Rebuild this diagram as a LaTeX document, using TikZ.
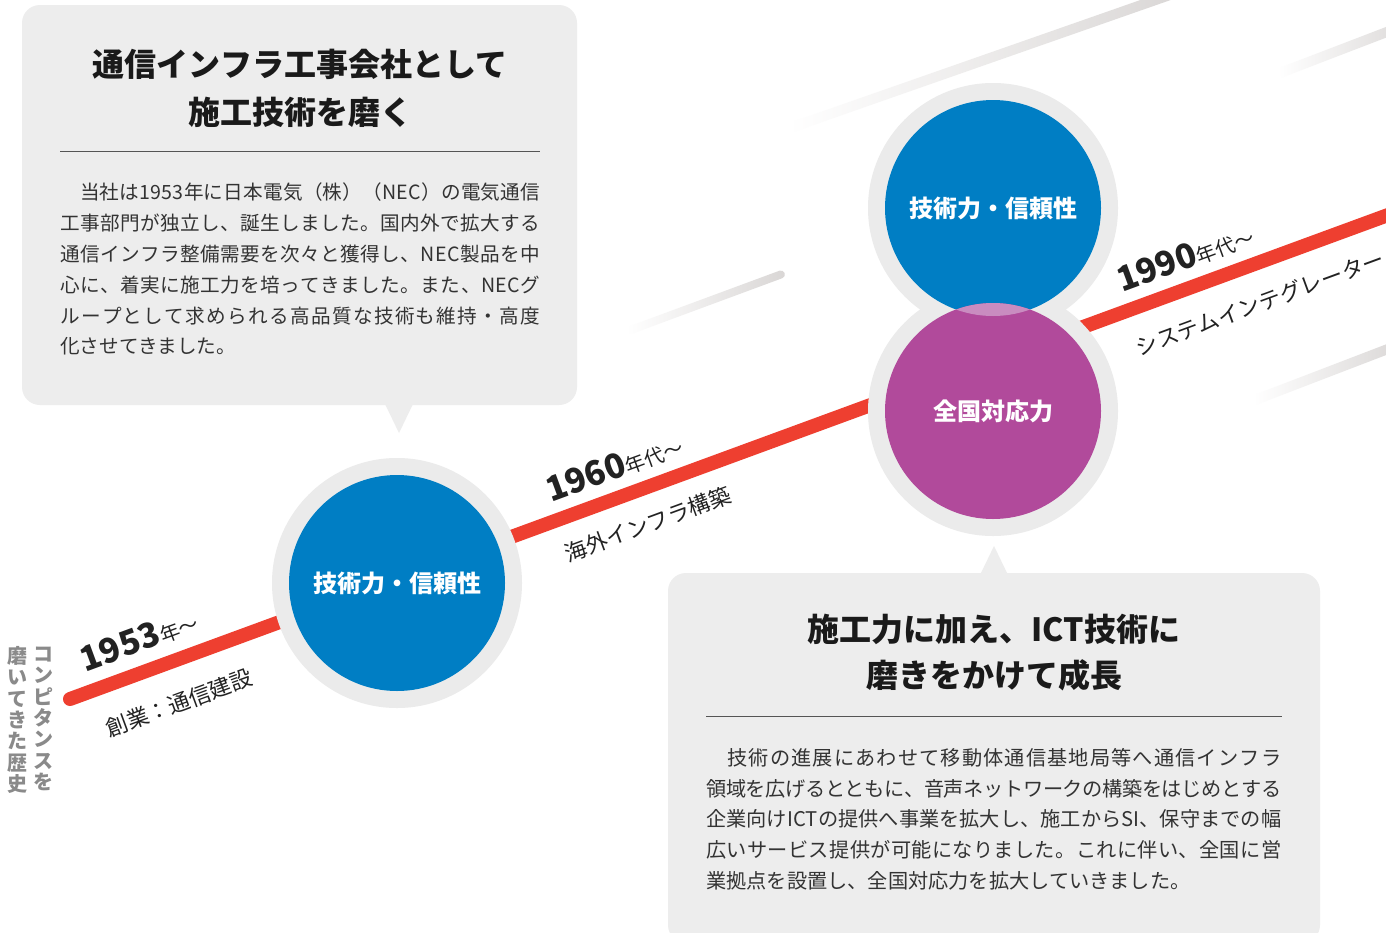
\documentclass[tikz,border=0pt]{standalone}
\usepackage{fontspec}
\newfontfamily\jp{Noto Sans CJK JP}
\definecolor{boxgray}{HTML}{EDEDED}
\definecolor{ringgray}{HTML}{EBEBEB}
\definecolor{tlred}{HTML}{EE3F30}
\definecolor{cblue}{HTML}{007EC4}
\definecolor{cpurple}{HTML}{B14A9B}
\definecolor{lenscol}{HTML}{C98CC0}
\definecolor{decogray}{HTML}{D9D6D5}
\definecolor{vgray}{HTML}{8A8A8A}
\definecolor{titlecol}{HTML}{1A1A1A}
\definecolor{bodycol}{HTML}{333333}
\definecolor{labcol}{HTML}{222222}
\definecolor{rulecol}{HTML}{555555}
\makeatletter
\newcommand\jline[2]{\hbox to #1{\@tfor\jl@c:=#2\do{\jl@c\hskip 0pt plus 1pt minus 1pt\relax}\unskip}}
\makeatother
\tikzset{
  callout/.style={rectangle, rounded corners=18pt, fill=boxgray, inner sep=0pt},
  disc/.style={circle, minimum size=216pt, inner sep=0pt, text=white,
    font=\jp\bfseries\fontsize{24}{24}\selectfont},
  titletext/.style={align=center, inner sep=0pt, text=titlecol},
  bodytext/.style={align=left, inner sep=0pt, text=bodycol, anchor=north west},
  vert/.style={align=center, inner sep=0pt, text=vgray,
    font=\jp\bfseries\fontsize{20}{21.4}\selectfont},
  yearlab/.style={inner sep=0pt, text=labcol, rotate=20.2, font=\jp},
  eralab/.style={inner sep=0pt, text=labcol, rotate=20.2,
    font=\jp\fontsize{22}{22}\selectfont},
  deco/.style={left color=white, right color=decogray},
  timeline/.style={draw=tlred, line width=14pt, line cap=round},
  rulerline/.style={draw=rulecol, line width=1pt}
}
\newcommand\yr[2]{{\bfseries\fontsize{34}{34}\selectfont #1}{\fontsize{20}{20}\selectfont #2}}
\begin{document}
\begin{tikzpicture}[x=1pt,y=-1pt]
\useasboundingbox (0,0) rectangle (1386,932);
\fill[white] (0,0) rectangle (1386,932);
% decorative fading bars
\begin{scope}[shift={(790,128)}, rotate=19.3]
  \shade[deco] (0,5) rectangle (420,-5);
\end{scope}
\begin{scope}[shift={(1280,73)}, rotate=21]
  \shade[deco] (0,5) rectangle (150,-5);
\end{scope}
\begin{scope}[shift={(628,331)}, rotate=20.3]
  \shade[deco, rounded corners=4pt] (0,4) rectangle (167,-4);
\end{scope}
\begin{scope}[shift={(1255,400)}, rotate=21]
  \shade[deco] (0,5) rectangle (160,-5);
\end{scope}
% timeline
\coordinate (tl0) at (70,699);
\coordinate (tl1) at (1400,210.6);
\draw[timeline] (tl0) -- (tl1);
% circles
\coordinate (p1) at (397,583);
\coordinate (p2) at (993,208);
\coordinate (p3) at (993,411);
\fill[ringgray] (p1) circle (125pt);
\fill[ringgray] (p2) circle (125pt);
\fill[ringgray] (p3) circle (125pt);
\node[disc, fill=cblue] (c1) at (p1) {技術力・信頼性};
\node[disc, fill=cblue] (c2) at (p2) {技術力・信頼性};
\node[disc, fill=cpurple] (c3) at (p3) {全国対応力};
\begin{scope}
  \clip (p2) circle (108pt);
  \fill[lenscol] (p3) circle (108pt);
\end{scope}
% labels along the timeline
\node[yearlab] (y1) at (139,640) {\yr{1953}{年〜}};
\node[eralab] (e1) at (179,703) {創業：通信建設};
\node[yearlab] (y2) at (614,467) {\yr{1960}{年代〜}};
\node[eralab] (e2) at (648,524) {海外インフラ構築};
\node[yearlab] (y3) at (1185,257) {\yr{1990}{年代〜}};
\node[eralab] (e3) at (1260,303) {システムインテグレーター};
% vertical caption
\node[vert] (v1) at (43,719) {コ\\ン\\ピ\\タ\\ン\\ス\\を};
\node[vert] (v2) at (17,720) {磨\\い\\て\\き\\た\\歴\\史};
% top-left callout
\node[callout, minimum width=555pt, minimum height=400pt] (b1) at (299.5,205) {};
\fill[boxgray] (385,404) -- (399,433) -- (413,404) -- cycle;
\node[titletext, font=\jp\bfseries\fontsize{32}{48}\selectfont] (t1) at (300,88)
  {通信インフラ工事会社として\\施工技術を磨く};
\draw[rulerline] (60,151) -- (540,151);
\node[bodytext, font=\jp\fontsize{19.6}{30.8}\selectfont] (bt1) at (60,183)
  {\jline{480pt}{　当社は1953年に日本電気（株）（NEC）の電気通信}\\
   \jline{480pt}{工事部門が独立し、誕生しました。国内外で拡大する}\\
   \jline{480pt}{通信インフラ整備需要を次々と獲得し、NEC製品を中}\\
   \jline{480pt}{心に、着実に施工力を培ってきました。また、NECグ}\\
   \jline{480pt}{ループとして求められる高品質な技術も維持・高度}\\
   化させてきました。};
% bottom-right callout
\node[callout, minimum width=652pt, minimum height=370pt] (b2) at (994,758) {};
\fill[boxgray] (980,575) -- (994,546) -- (1008,575) -- cycle;
\node[titletext, font=\jp\bfseries\fontsize{32}{46}\selectfont] (t2) at (994,653)
  {施工力に加え、ICT技術に\\磨きをかけて成長};
\draw[rulerline] (706,716) -- (1282,716);
\node[bodytext, font=\jp\fontsize{20.2}{30.8}\selectfont] (bt2) at (706,748)
  {\jline{575pt}{　技術の進展にあわせて移動体通信基地局等へ通信インフラ}\\
   \jline{575pt}{領域を広げるとともに、音声ネットワークの構築をはじめとする}\\
   \jline{575pt}{企業向けICTの提供へ事業を拡大し、施工からSI、保守までの幅}\\
   \jline{575pt}{広いサービス提供が可能になりました。これに伴い、全国に営}\\
   業拠点を設置し、全国対応力を拡大していきました。};
\end{tikzpicture}
\end{document}
